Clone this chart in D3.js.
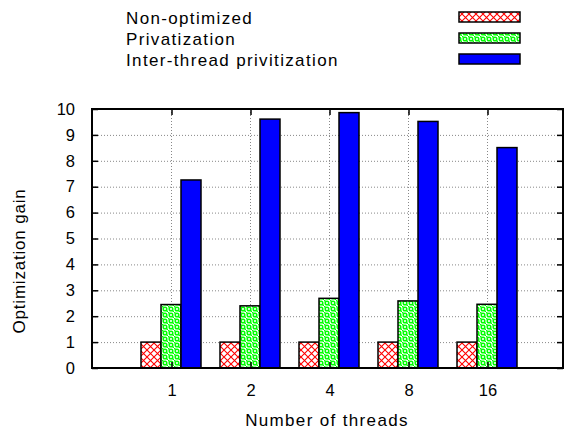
<!DOCTYPE html>
<html>
<head>
<meta charset="utf-8">
<script src="https://cdn.jsdelivr.net/npm/d3@7"></script>
<style>
  body { margin: 0; background: #fff; }
  svg text { font-family: "Liberation Sans", Arial, sans-serif; font-size: 17px; fill: #000; }
  .label { letter-spacing: 1.35px; }
</style>
</head>
<body>
<svg id="plot"></svg>
<script>
// data
const threads = ["1", "2", "4", "8", "16"];
const seriesNames = ["Non-optimized", "Privatization", "Inter-thread privitization"];
const nonOptimized = [1, 1, 1, 1, 1];
const privatization = [2.45, 2.4, 2.69, 2.59, 2.46];
const interThread = [7.26, 9.61, 9.86, 9.52, 8.51];
const yTicks = [0, 1, 2, 3, 4, 5, 6, 7, 8, 9, 10];

const series = [nonOptimized, privatization, interThread];
const fills = ["url(#cross)", "url(#dots)", "#0000ff"];

// init setting
const svg = d3.select("#plot")
    .attr("width", 565)
    .attr("height", 433);
const margin = { top: 109, right: 2, bottom: 65, left: 92 };
const right = 565 - margin.right;
const bottom = 433 - margin.bottom;

// patterns
const defs = svg.append("defs");
const cross = defs.append("pattern")
    .attr("id", "cross")
    .attr("patternUnits", "userSpaceOnUse")
    .attr("width", 7).attr("height", 7);
cross.append("rect").attr("width", 7).attr("height", 7).attr("fill", "#fff");
cross.append("path")
    .attr("d", "M0,0L7,7M7,0L0,7")
    .attr("stroke", "#ff0000").attr("stroke-width", 1.1);

const dots = defs.append("pattern")
    .attr("id", "dots")
    .attr("patternUnits", "userSpaceOnUse")
    .attr("width", 6).attr("height", 6);
dots.append("rect").attr("width", 6).attr("height", 6).attr("fill", "#fff");
dots.append("circle").attr("cx", 3).attr("cy", 3).attr("r", 1.8)
    .attr("fill", "none").attr("stroke", "#00ff00").attr("stroke-width", 1.5);
dots.append("rect").attr("x", 0).attr("y", 0).attr("width", 1.5).attr("height", 1.5).attr("fill", "#00ff00");
dots.append("rect").attr("x", 4.5).attr("y", 4.5).attr("width", 1.5).attr("height", 1.5).attr("fill", "#00ff00");

// scales: group i sits at position i+1
const xScale = d3.scaleLinear()
    .domain([0, 6])
    .range([margin.left, margin.left + 6 * 79]);
const yScale = d3.scaleLinear()
    .domain([0, 10])
    .range([bottom, margin.top]);
const barW = 20;

// grid
const grid = svg.append("g")
    .attr("stroke", "#888")
    .attr("stroke-width", 1)
    .attr("stroke-dasharray", "1,2");
grid.selectAll(".hgrid")
    .data(yTicks.slice(1, -1))
    .enter().append("line")
    .attr("x1", margin.left).attr("x2", right)
    .attr("y1", d => yScale(d) + 0.5).attr("y2", d => yScale(d) + 0.5);
grid.selectAll(".vgrid")
    .data(threads)
    .enter().append("line")
    .attr("x1", (d, i) => Math.round(xScale(i + 1)) + 0.5)
    .attr("x2", (d, i) => Math.round(xScale(i + 1)) + 0.5)
    .attr("y1", margin.top).attr("y2", bottom);

// bars
series.forEach((vals, s) => {
    svg.append("g").selectAll("rect")
        .data(vals)
        .enter().append("rect")
        .attr("x", (d, i) => Math.round(xScale(i + 1)) + (s - 1) * barW - barW / 2)
        .attr("y", d => yScale(d))
        .attr("width", barW)
        .attr("height", d => bottom - yScale(d))
        .attr("fill", fills[s])
        .attr("stroke", "#000")
        .attr("stroke-width", 1.5);
});

// axes with inward ticks on all sides
const yAxis = d3.axisLeft(yScale).tickValues(yTicks).tickSize(-6).tickPadding(17);
svg.append("g")
    .attr("transform", `translate(${margin.left}, 0)`)
    .call(yAxis)
    .call(g => g.select(".domain").remove());
svg.append("g")
    .attr("transform", `translate(${right}, 0)`)
    .call(d3.axisRight(yScale).tickValues(yTicks).tickSize(-6).tickFormat(""))
    .call(g => g.select(".domain").remove());

const xPos = threads.map((t, i) => Math.round(xScale(i + 1)) + 0.5);
const xAxis = d3.axisBottom(d3.scaleOrdinal().domain(threads).range(xPos))
    .tickSize(-6).tickPadding(16);
svg.append("g")
    .attr("transform", `translate(0, ${bottom})`)
    .call(xAxis)
    .call(g => g.select(".domain").remove());
svg.append("g")
    .attr("transform", `translate(0, ${margin.top})`)
    .call(d3.axisTop(d3.scaleOrdinal().domain(threads).range(xPos)).tickSize(-6).tickFormat(""))
    .call(g => g.select(".domain").remove());

svg.selectAll(".tick line").attr("stroke", "#000").attr("stroke-width", 1.5);
svg.selectAll(".tick text").style("font-size", "16.5px").style("font-family", "Liberation Sans, Arial, sans-serif");

// frame
svg.append("rect")
    .attr("x", margin.left).attr("y", margin.top)
    .attr("width", right - margin.left).attr("height", bottom - margin.top)
    .attr("fill", "none").attr("stroke", "#000").attr("stroke-width", 2);

// labels
svg.append("text")
    .attr("class", "label")
    .attr("x", 327).attr("y", 426)
    .style("text-anchor", "middle")
    .text("Number of threads");
svg.append("text")
    .attr("class", "label")
    .attr("transform", "translate(25, 261) rotate(-90)")
    .style("text-anchor", "middle")
    .style("letter-spacing", "0.8px")
    .text("Optimization gain");

// legend
const legend = svg.append("g");
seriesNames.forEach((name, s) => {
    legend.append("text")
        .attr("class", "label")
        .attr("x", 126).attr("y", 23.5 + s * 21)
        .text(name);
    legend.append("rect")
        .attr("x", 459).attr("y", 12 + s * 21)
        .attr("width", 61).attr("height", 10)
        .attr("fill", fills[s])
        .attr("stroke", "#000").attr("stroke-width", 1.5);
});
</script>
</body>
</html>
